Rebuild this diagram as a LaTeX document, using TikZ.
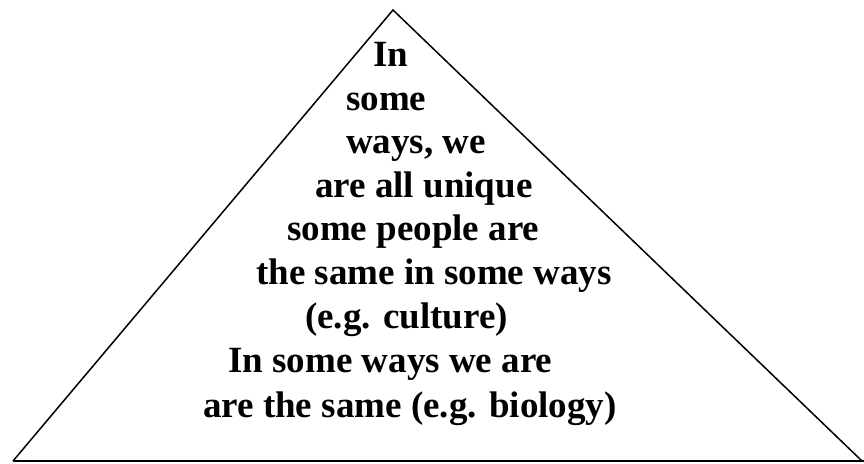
\documentclass[tikz,border=0pt]{standalone}
\usepackage{fontspec}
\setmainfont{Liberation Serif}[BoldFont={Liberation Serif Bold}]
\usetikzlibrary{positioning}

\begin{document}
\begin{tikzpicture}[x=1pt, y=-1pt, word/.style={anchor=base west, inner sep=0pt, font=\bfseries\fontsize{37}{44}\selectfont}]
        \useasboundingbox (0,0) rectangle (864,463);
        % Triangle
        \coordinate (apex) at (393,10);
        \coordinate (left) at (13,461);
        \coordinate (right) at (862,461);
        \coordinate (edge) at (864,461);
        \draw[line width=1.5pt] (left) -- (apex) -- (right);
        \draw[line width=2.6pt] (left) -- (edge);

        % Text
        \node (in) at (373,66) [word] {In};
        \node (some) at (346,110) [word] {some};
        \node (ways) at (346,153) [word] {ways, we};
        \node (unique) at (315,197) [word] {are all unique};
        \node (people) at (287,240) [word] {some people are};
        \node (same) at (256,284) [word] {the same in some ways};
        \node (culture) at (305,328) [word] {(e.g. culture)};
        \node (weare) at (228,372) [word] {In some ways we are};
        \node (biology) at (203,417) [word] {are the same (e.g. biology)};
\end{tikzpicture}
\end{document}
